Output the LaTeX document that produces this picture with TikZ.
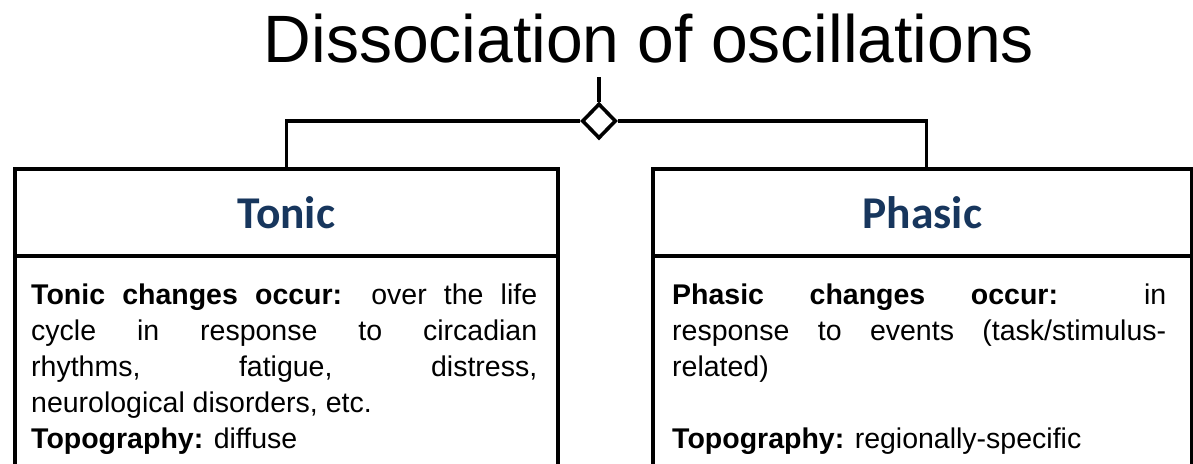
\documentclass[tikz,border=0pt]{standalone}
\usepackage{fontspec}
\setmainfont{Liberation Sans}
\newfontfamily\headfont{Carlito}
\usetikzlibrary{shapes.geometric}
\definecolor{headnavy}{RGB}{23,54,93}
\tolerance=10000
\hbadness=10000
\begin{document}
\begin{tikzpicture}[x=1pt,y=-1pt,
  conn/.style={line width=3.6pt},
  headbox/.style={draw, line width=3.6pt, minimum height=87pt, anchor=north west,
    inner sep=0pt, text=headnavy, font=\headfont\bfseries\fontsize{45.5}{45.5}\selectfont},
  bodybox/.style={draw, line width=3.6pt, minimum height=230pt, anchor=north west, inner sep=0pt},
  bodytext/.style={anchor=base west, inner sep=0pt, align=justify,
    font=\fontsize{28.5}{36}\selectfont},
  joint/.style={diamond, draw, fill=white, line width=3.6pt, inner sep=0pt,
    minimum width=34pt, minimum height=35pt}]
\useasboundingbox (0,0) rectangle (1193,463);
\clip (0,0) rectangle (1193,463);

% title
\node[anchor=base, inner sep=0pt, font=\fontsize{67}{67}\selectfont] (title) at (649,62)
  {\scalebox{0.985}[1]{Dissociation of oscillations}};

% the two class boxes
\node[headbox, minimum width=543pt] (tonichead) at (13,167) {Tonic};
\node[bodybox, minimum width=543pt] (tonicbody) at (13,254) {};
\node[headbox, minimum width=539pt] (phasichead) at (651,167) {Phasic};
\node[bodybox, minimum width=539pt] (phasicbody) at (651,254) {};

% box contents
\node[bodytext, text width=506pt] (tonictext) at (31,304)
  {\textbf{Tonic changes occur:} over the life\linebreak
   cycle in response to circadian\linebreak
   rhythms, fatigue, distress,\linebreak
   neurological disorders, etc.\\
   \textbf{Topography:} diffuse};
\node[bodytext, text width=494pt] (phasictext) at (672,304)
  {\textbf{Phasic changes occur:} in\linebreak
   response to events (task/stimulus-\linebreak
   related)\\[36pt]
   \textbf{Topography:} regionally-specific};

% aggregation joint and connectors
\coordinate (stemtop) at (599,77);
\node[joint] (dia) at (599,121) {};
\draw[conn] (stemtop) -- (dia.north);
\draw[conn] (dia.west) -| (tonichead.north);
\draw[conn] (dia.east) -| ([xshift=4pt]phasichead.north);
\end{tikzpicture}
\end{document}
